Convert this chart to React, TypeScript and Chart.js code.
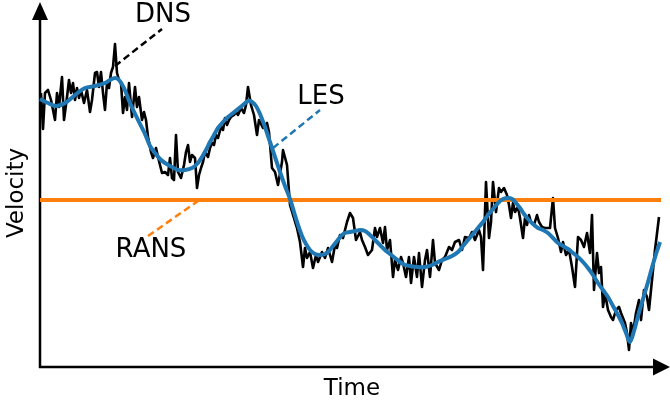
import React, { useEffect, useRef } from "react";
import { Chart, registerables } from "chart.js";

Chart.register(...registerables);

// DNS: fully resolved, noisy velocity signal
const dnsTime = [
  1, 3, 5, 8, 11, 15, 17, 19, 22, 24, 27, 29, 31, 33, 35, 37, 39, 41, 44, 47,
  50, 52, 55, 57, 59, 61, 63, 65, 67, 69, 71, 73, 75, 77, 79, 81, 83, 85, 87, 89,
  92, 95, 97, 99, 102, 104, 106, 108, 111, 113, 116, 118, 120, 122, 125, 128, 130, 132, 134, 136,
  138, 141, 144, 146, 148, 150, 152, 155, 157, 159, 161, 163, 165, 168, 170, 172, 174, 176, 178, 181,
  183, 185, 187, 189, 191, 194, 196, 198, 201, 204, 206, 208, 211, 214, 217, 219, 223, 227, 229, 232,
  235, 238, 242, 243, 247, 250, 253, 257, 260, 263, 265, 267, 270, 273, 276, 278, 282, 285, 288, 292,
  295, 297, 300, 303, 307, 310, 313, 316, 320, 322, 325, 328, 332, 335, 337, 340, 343, 345, 347, 350,
  353, 355, 358, 361, 363, 366, 369, 371, 374, 377, 379, 382, 385, 387, 390, 393, 395, 399, 402, 405,
  409, 412, 415, 419, 422, 425, 429, 432, 435, 439, 441, 443, 446, 449, 451, 453, 456, 459, 461, 464,
  467, 469, 471, 473, 475, 478, 480, 483, 485, 487, 489, 491, 494, 497, 499, 502, 505, 507, 510, 513,
  515, 518, 521, 523, 526, 529, 532, 535, 538, 541, 544, 547, 550, 552, 554, 557, 559, 561, 563, 565,
  568, 571, 573, 576, 579, 581, 585, 587, 589, 591, 593, 596, 599, 601, 604, 607, 609, 612, 615, 619,
];
const dnsVelocity = [
  274, 238, 274, 277, 267, 247, 274, 260, 290, 247, 270, 287, 274, 284, 267, 279, 269, 277, 264, 277,
  255, 267, 294, 295, 280, 295, 274, 257, 284, 279, 294, 300, 323, 294, 287, 284, 254, 270, 257, 284,
  250, 280, 260, 270, 247, 255, 247, 230, 215, 209, 219, 210, 202, 194, 195, 192, 209, 189, 187, 232,
  195, 189, 202, 215, 222, 205, 212, 209, 179, 192, 199, 205, 215, 210, 219, 224, 222, 232, 229, 240,
  237, 249, 242, 247, 250, 252, 255, 252, 259, 254, 262, 280, 262, 252, 232, 247, 239, 244, 235, 199,
  195, 182, 205, 217, 202, 162, 152, 139, 125, 100, 119, 109, 115, 99, 112, 105, 115, 109, 119, 105,
  122, 119, 132, 129, 145, 154, 149, 127, 135, 127, 120, 112, 117, 139, 130, 139, 124, 140, 117, 127,
  90, 107, 97, 110, 104, 90, 110, 84, 110, 90, 114, 80, 107, 117, 90, 127, 104, 97, 107, 110,
  120, 117, 125, 127, 117, 130, 129, 135, 127, 137, 130, 97, 185, 129, 145, 185, 155, 179, 175, 179,
  172, 162, 149, 164, 155, 160, 149, 129, 149, 142, 152, 145, 142, 152, 145, 140, 139, 139, 139, 169,
  139, 129, 115, 125, 112, 117, 100, 80, 130, 127, 120, 134, 114, 152, 77, 114, 94, 100, 60, 74,
  57, 50, 47, 57, 60, 54, 44, 34, 17, 44, 34, 54, 67, 47, 77, 70, 57, 87, 117, 150,
];

// LES: filtered, large-scale velocity
const lesTime = [
  0, 8, 16, 25, 35, 45, 55, 65, 70, 75, 79, 84, 90, 98, 105, 110, 115, 120, 125, 132,
  138, 145, 152, 158, 162, 166, 170, 174, 178, 183, 188, 193, 198, 203, 208, 212, 216, 220, 225, 230,
  235, 240, 245, 250, 254, 258, 262, 266, 270, 275, 280, 285, 289, 293, 297, 301, 305, 310, 315, 320,
  325, 330, 335, 340, 345, 350, 355, 360, 365, 370, 377, 385, 392, 398, 405, 412, 418, 423, 428, 433,
  438, 443, 448, 453, 458, 463, 468, 472, 476, 480, 484, 488, 493, 498, 503, 508, 513, 518, 523, 528,
  533, 538, 543, 548, 553, 558, 563, 568, 573, 578, 582, 586, 590, 594, 598, 603, 608, 613, 617, 620,
];
const lesVelocity = [
  268, 264, 261, 264, 272, 279, 281, 284, 287, 289, 287, 279, 264, 247, 233, 221, 214, 208, 204, 200,
  197, 197, 199, 204, 210, 217, 225, 232, 239, 245, 250, 254, 258, 262, 266, 265, 261, 253, 240, 225,
  210, 195, 181, 168, 155, 142, 131, 123, 117, 113, 112, 113, 116, 121, 126, 131, 134, 135, 136, 137,
  136, 132, 127, 122, 117, 113, 109, 105, 102, 101, 100, 100, 102, 105, 108, 111, 115, 121, 127, 133,
  139, 145, 152, 158, 164, 168, 169, 168, 164, 159, 153, 148, 143, 139, 137, 134, 129, 124, 121, 118,
  114, 110, 105, 99, 92, 84, 77, 70, 61, 52, 44, 34, 25, 36, 51, 68, 85, 103, 116, 125,
];

// RANS: time-averaged velocity
const ransVelocity = 167;
const ransTime = [0, 621];

// Dashed leader lines joining each label to its curve
const dnsLeaderTime = [75, 122];
const dnsLeaderVelocity = [301, 338];
const lesLeaderTime = [233, 280];
const lesLeaderVelocity = [219, 257];
const ransLeaderTime = [108, 158];
const ransLeaderVelocity = [131, 166];

const BLACK = "#000000";
const BLUE = "#1f77b4";
const ORANGE = "#ff7f0e";
const FONT = '"DejaVu Sans", "Liberation Sans", sans-serif';

const toPoints = (xs: number[], ys: number[]) => xs.map((x, i) => ({ x, y: ys[i] }));

// Axes with arrow heads, axis titles and curve labels
const decorations = {
  id: "decorations",
  beforeDatasetsDraw(chart: any) {
    const { ctx, scales } = chart;
    const x0 = scales.x.getPixelForValue(0);
    const y0 = scales.y.getPixelForValue(0);
    const yTop = scales.y.getPixelForValue(365);
    const xEnd = scales.x.getPixelForValue(630);
    ctx.save();
    ctx.strokeStyle = BLACK;
    ctx.fillStyle = BLACK;
    ctx.lineWidth = 2.5;
    ctx.beginPath();
    ctx.moveTo(x0, y0 + 1);
    ctx.lineTo(x0, yTop + 16);
    ctx.moveTo(x0 - 1, y0);
    ctx.lineTo(xEnd - 15, y0);
    ctx.stroke();
    // arrow heads
    ctx.beginPath();
    ctx.moveTo(x0, yTop);
    ctx.lineTo(x0 - 8, yTop + 18);
    ctx.lineTo(x0 + 8, yTop + 18);
    ctx.closePath();
    ctx.fill();
    ctx.beginPath();
    ctx.moveTo(xEnd, y0);
    ctx.lineTo(xEnd - 17, y0 - 8.5);
    ctx.lineTo(xEnd - 17, y0 + 8.5);
    ctx.closePath();
    ctx.fill();
    ctx.restore();
  },
  afterDraw(chart: any) {
    const { ctx, scales } = chart;
    const px = (t: number) => scales.x.getPixelForValue(t);
    const py = (v: number) => scales.y.getPixelForValue(v);
    ctx.save();
    ctx.fillStyle = BLACK;
    ctx.textAlign = "center";
    ctx.textBaseline = "middle";
    ctx.font = `23px ${FONT}`;
    ctx.fillText("Time", px(312), py(-22));
    ctx.save();
    ctx.translate(px(-23), py(174));
    ctx.rotate(-Math.PI / 2);
    ctx.fillText("Velocity", 0, 0);
    ctx.restore();
    ctx.font = `26px ${FONT}`;
    ctx.fillText("DNS", px(123), py(352));
    ctx.fillText("LES", px(281), py(270));
    ctx.fillText("RANS", px(111), py(117));
    ctx.restore();
  },
};

export default function App() {
  const canvasRef = useRef<HTMLCanvasElement | null>(null);

  useEffect(() => {
    if (!canvasRef.current) return;
    const chart = new Chart(canvasRef.current, {
      type: "scatter",
      data: {
        datasets: [
          {
            label: "DNS",
            data: toPoints(dnsTime, dnsVelocity),
            borderColor: BLACK,
            borderWidth: 2.6,
            showLine: true,
            pointRadius: 0,
            borderJoinStyle: "round",
            order: 3,
          },
          {
            label: "RANS",
            data: toPoints(ransTime, [ransVelocity, ransVelocity]),
            borderColor: ORANGE,
            borderWidth: 4,
            showLine: true,
            pointRadius: 0,
            order: 2,
          },
          {
            label: "LES",
            data: toPoints(lesTime, lesVelocity),
            borderColor: BLUE,
            borderWidth: 4,
            showLine: true,
            pointRadius: 0,
            tension: 0.3,
            borderJoinStyle: "round",
            order: 1,
          },
          {
            label: "DNS leader",
            data: toPoints(dnsLeaderTime, dnsLeaderVelocity),
            borderColor: BLACK,
            borderWidth: 2.5,
            borderDash: [7, 4],
            showLine: true,
            pointRadius: 0,
            order: 0,
          },
          {
            label: "LES leader",
            data: toPoints(lesLeaderTime, lesLeaderVelocity),
            borderColor: BLUE,
            borderWidth: 2.5,
            borderDash: [7, 4],
            showLine: true,
            pointRadius: 0,
            order: 0,
          },
          {
            label: "RANS leader",
            data: toPoints(ransLeaderTime, ransLeaderVelocity),
            borderColor: ORANGE,
            borderWidth: 2.5,
            borderDash: [7, 4],
            showLine: true,
            pointRadius: 0,
            order: 0,
          },
        ],
      },
      options: {
        animation: false,
        responsive: false,
        devicePixelRatio: 1,
        layout: { padding: 0 },
        plugins: { legend: { display: false }, tooltip: { enabled: false } },
        scales: {
          x: { type: "linear", display: false, min: -40, max: 630 },
          y: { type: "linear", display: false, min: -37, max: 367 },
        },
      },
      plugins: [decorations],
    });
    return () => chart.destroy();
  }, []);

  return (
    <div style={{ position: "absolute", left: 0, top: 0, width: 670, height: 404, background: "#fff" }}>
      <canvas ref={canvasRef} width={670} height={404} style={{ display: "block" }} />
    </div>
  );
}
